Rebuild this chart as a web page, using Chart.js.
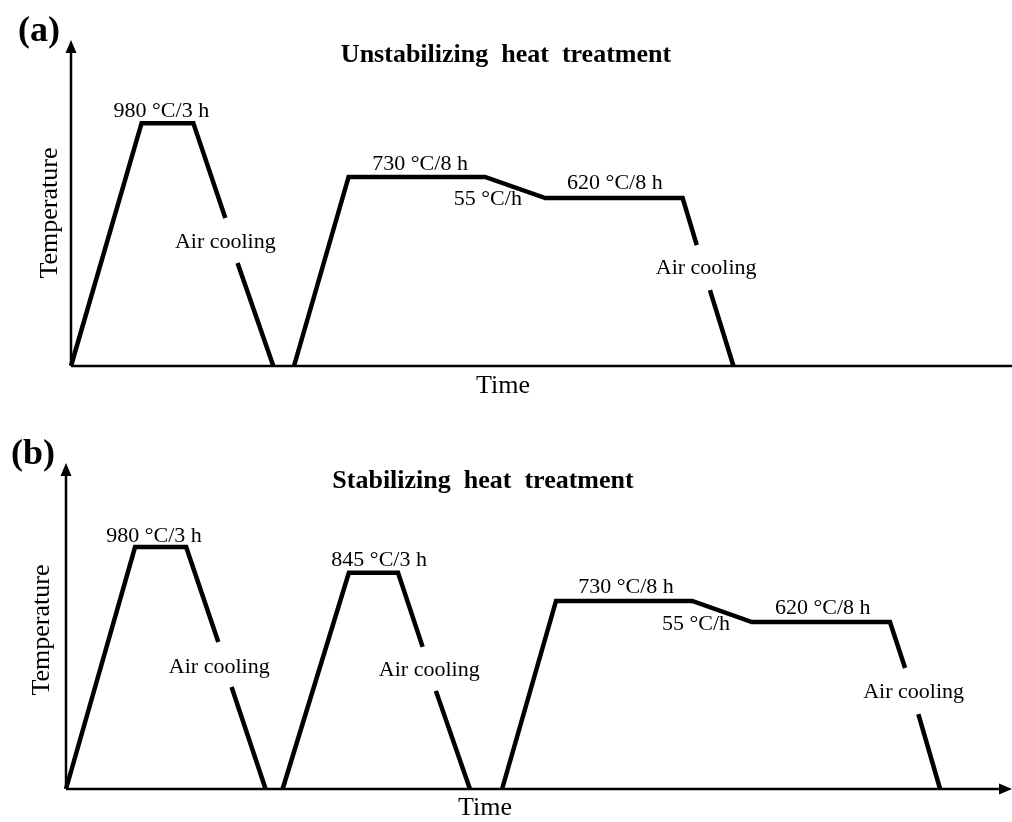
<!DOCTYPE html>
<html>
<head>
<meta charset="utf-8">
<script src="https://cdn.jsdelivr.net/npm/chart.js@4.4.1/dist/chart.umd.min.js"></script>
<style>
  body { margin: 0; background: #fff; }
  #wrap { position: relative; width: 1012px; height: 822px; }
  #wrap canvas { position: absolute; left: 0; }
</style>
</head>
<body>
<div id="wrap">
  <canvas id="chartA" width="1012" height="411" style="top:0"></canvas>
  <canvas id="chartB" width="1012" height="411" style="top:411px"></canvas>
</div>
<script>
// schematic units: time 0-100 along the axis, temperature 0-100 up to the arrow tip
// null temperature = break in the line where the "Air cooling" label sits

// (a) unstabilizing
const aTime = [0, 7.5, 13.0, 16.4, 17.0, 17.7, 21.5, 22.6, 23.7, 29.5, 44.0, 50.4, 65.0, 66.5, 67.2, 67.9, 70.4];
const aTemp = [0, 74.5, 74.5, 45.4, null, 31.6, 0, null, 0, 58.0, 58.0, 51.5, 51.5, 37.1, null, 23.3, 0];
const aLabels = ["980 °C/3 h", "Air cooling", "730 °C/8 h", "55 °C/h", "620 °C/8 h", "Air cooling"];
const aLabelTime = [9.6, 16.4, 37.1, 44.3, 57.8, 67.5];
const aLabelTemp = [78.2, 38.0, 62.0, 51.2, 56.1, 30.1];

// (b) stabilizing
const bTime = [0, 7.3, 12.7, 16.1, 16.8, 17.5, 21.1, 22.0, 22.9, 29.9, 35.1, 37.7, 38.4, 39.1, 42.7, 44.4, 46.1, 51.8, 66.2, 72.5, 87.1, 88.7, 89.4, 90.1, 92.4];
const bTemp = [0, 74.2, 74.2, 45.1, null, 31.3, 0, null, 0, 66.3, 66.3, 43.6, null, 30.1, 0, null, 0, 57.7, 57.7, 51.2, 51.2, 37.1, null, 23.0, 0];
const bLabels = ["980 °C/3 h", "Air cooling", "845 °C/3 h", "Air cooling", "730 °C/8 h", "55 °C/h", "620 °C/8 h", "Air cooling"];
const bLabelTime = [9.3, 16.2, 33.1, 38.4, 59.2, 66.6, 80.0, 89.6];
const bLabelTemp = [77.6, 37.4, 70.2, 36.5, 62.0, 50.6, 55.5, 29.8];

const SERIF = '"Liberation Serif", "Times New Roman", serif';

// axes with arrows, panel tag, title, axis names and step labels
const schematicPlugin = {
    id: 'schematic',
    beforeDatasetsDraw(chart, args, opts) {
        const ctx = chart.ctx;
        const area = chart.chartArea;
        ctx.save();
        ctx.strokeStyle = '#000';
        ctx.fillStyle = '#000';
        ctx.lineWidth = 2.5;
        ctx.beginPath();
        ctx.moveTo(area.left, area.bottom);
        ctx.lineTo(area.left, area.top + 10);
        ctx.moveTo(area.left, area.bottom);
        ctx.lineTo(opts.arrowX ? area.right - 10 : area.right, area.bottom);
        ctx.stroke();
        // y arrow
        ctx.beginPath();
        ctx.moveTo(area.left, area.top);
        ctx.lineTo(area.left - 5.5, area.top + 13);
        ctx.lineTo(area.left + 5.5, area.top + 13);
        ctx.closePath();
        ctx.fill();
        if (opts.arrowX) {
            ctx.beginPath();
            ctx.moveTo(area.right, area.bottom);
            ctx.lineTo(area.right - 13, area.bottom - 5.5);
            ctx.lineTo(area.right - 13, area.bottom + 5.5);
            ctx.closePath();
            ctx.fill();
        }
        ctx.restore();
    },
    afterDatasetsDraw(chart, args, opts) {
        const ctx = chart.ctx;
        const xs = chart.scales.x;
        const ys = chart.scales.y;
        ctx.save();
        ctx.fillStyle = '#000';
        ctx.textAlign = 'center';
        ctx.textBaseline = 'middle';

        ctx.font = 'bold 36px ' + SERIF;
        ctx.fillText(opts.tag, opts.tagPos[0], opts.tagPos[1]);

        ctx.font = 'bold 26px ' + SERIF;
        ctx.fillText(opts.title, opts.titlePos[0], opts.titlePos[1]);

        ctx.font = '26px ' + SERIF;
        ctx.fillText('Time', opts.timePos[0], opts.timePos[1]);
        ctx.save();
        ctx.translate(opts.tempPos[0], opts.tempPos[1]);
        ctx.rotate(-Math.PI / 2);
        ctx.fillText('Temperature', 0, 0);
        ctx.restore();

        ctx.font = '22px ' + SERIF;
        opts.labels.forEach((txt, i) => {
            ctx.fillText(txt, xs.getPixelForValue(opts.labelTime[i]), ys.getPixelForValue(opts.labelTemp[i]));
        });
        ctx.restore();
    }
};

function build_config(time, temp, padding, extra) {
    return {
        type: 'scatter',
        data: {
            datasets: [{
                data: time.map((t, i) => ({ x: t, y: temp[i] })),
                showLine: true,
                spanGaps: false,
                borderColor: '#000',
                borderWidth: 4.5,
                borderJoinStyle: 'miter',
                borderCapStyle: 'butt',
                pointRadius: 0,
                tension: 0,
                clip: false
            }]
        },
        options: {
            responsive: false,
            animation: false,
            layout: { padding: padding },
            scales: {
                x: { type: 'linear', min: 0, max: 100, display: false },
                y: { type: 'linear', min: 0, max: 100, display: false }
            },
            plugins: {
                legend: { display: false },
                tooltip: { enabled: false },
                schematic: extra
            }
        },
        plugins: [schematicPlugin]
    };
}

new Chart('chartA', build_config(aTime, aTemp,
    { top: 40, bottom: 45, left: 71, right: 0 },
    {
        tag: '(a)', tagPos: [39, 32],
        title: 'Unstabilizing  heat  treatment', titlePos: [506, 55],
        timePos: [503, 386], tempPos: [50, 213],
        labels: aLabels, labelTime: aLabelTime, labelTemp: aLabelTemp,
        arrowX: false
    }));

new Chart('chartB', build_config(bTime, bTemp,
    { top: 52, bottom: 33, left: 66, right: 0 },
    {
        tag: '(b)', tagPos: [33, 44],
        title: 'Stabilizing  heat  treatment', titlePos: [483, 70],
        timePos: [485, 397], tempPos: [42, 219],
        labels: bLabels, labelTime: bLabelTime, labelTemp: bLabelTemp,
        arrowX: true
    }));
</script>
</body>
</html>
